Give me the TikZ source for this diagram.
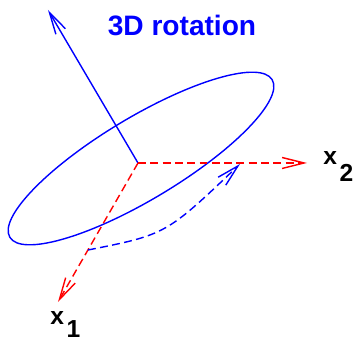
\documentclass[tikz,border=0pt]{standalone}
\usepackage{fontspec}
\setmainfont{Liberation Sans}
\usetikzlibrary{arrows.meta, positioning, calc}

\begin{document}
\begin{tikzpicture}[scale=1,
        axis/.style={line width=0.8pt, -{Straight Barb[length=4.4mm, width=2.2mm]}},
        dsh/.style={dash pattern=on 4.5pt off 2.5pt},
        lbl/.style={inner sep=0pt, anchor=base west, font=\fontsize{14}{16}\selectfont\bfseries}]
            \useasboundingbox (-2.76,-3.56) rectangle (4.40,3.26);
            \coordinate (O) at (0,0);
            \coordinate (N) at (-1.80,3.06);
            \coordinate (A) at (-1.60,-2.78);
            \coordinate (B) at (3.38,0);
            \coordinate (S) at (-1.00,-1.74);
            \coordinate (E) at (2.04,-0.02);
            \draw[blue, line width=0.8pt, shift={(0.06,0.09)}, rotate=31] (0,0) ellipse (3.06 and 0.82);
            \draw[axis, blue] (O)--(N);
            \draw[axis, red, dsh] (O)--(A);
            \draw[axis, red, dsh] (O)--(B);
            \draw[axis, blue, dsh] (S) .. controls (0.56,-1.43) .. (E);
            \node[lbl] (la) at (-1.76,-3.24) {x\hspace{1.5pt}\raisebox{-7pt}{1}};
            \node[lbl] (lb) at (3.70,-0.04) {x\hspace{1.5pt}\raisebox{-9.6pt}{2}};
            \node[inner sep=0pt, anchor=base, text=blue, font=\fontsize{16}{19}\selectfont\bfseries] (title) at (0.88,2.54) {3D rotation};
        \end{tikzpicture}
\end{document}
